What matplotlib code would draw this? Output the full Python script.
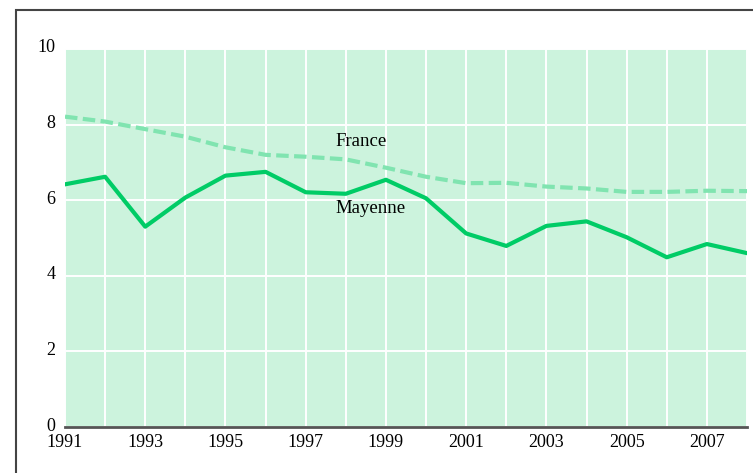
import matplotlib.pyplot as plt
from matplotlib.patches import Rectangle
from matplotlib.transforms import ScaledTranslation

years = list(range(1991, 2009))
france = [8.21, 8.08, 7.88, 7.68, 7.40, 7.20, 7.15, 7.08, 6.86, 6.62,
          6.45, 6.46, 6.36, 6.31, 6.22, 6.22, 6.25, 6.24]
mayenne = [6.42, 6.62, 5.30, 6.07, 6.65, 6.75, 6.21, 6.17, 6.54, 6.05,
           5.12, 4.79, 5.32, 5.44, 5.02, 4.49, 4.84, 4.60]
xtick_labels = [str(y) if y % 2 == 1 else "" for y in years]
yticks = [0, 2, 4, 6, 8, 10]

plt.rcParams['font.family'] = ['Liberation Serif', 'DejaVu Serif']

fig = plt.figure(figsize=(7.53, 4.73), dpi=100)
ax = fig.add_axes([65 / 753, 1 - 427 / 473, 682 / 753, 378 / 473])
ax.set_facecolor("#ccf3dd")

ax.plot(years, france, color="#80e4b0", lw=3, ls=(0, (3, 1.3)), zorder=3)
ax.plot(years, mayenne, color="#00cc66", lw=3, zorder=4)

ax.text(1998.38, 7.55, "France", ha="center", va="center", fontsize=13.5)
ax.text(1998.62, 5.77, "Mayenne", ha="center", va="center", fontsize=13.5)

ax.set_xlim(1991, 2008)
ax.set_ylim(0, 10)
ax.set_xticks(years)
ax.set_xticklabels(xtick_labels)
ax.set_yticks(yticks)
ax.tick_params(length=0, labelsize=13, colors="black")
ax.tick_params(axis="x", pad=5)
ax.tick_params(axis="y", pad=7)

# y labels sit a little above their grid lines in the source
shift = ScaledTranslation(0, 3 / 100, fig.dpi_scale_trans)
for lab in ax.get_yticklabels():
    lab.set_transform(lab.get_transform() + shift)

ax.grid(True, color="white", lw=1.4)
ax.set_axisbelow(True)
for s in ["left", "right", "top"]:
    ax.spines[s].set_visible(False)
ax.spines["bottom"].set_color("#555555")
ax.spines["bottom"].set_linewidth(2)

# outer frame, cut off at right and bottom like the source
fig.patches.append(Rectangle((16 / 753, -0.2), 1.2, 1.2 - 10 / 473,
                             transform=fig.transFigure, fill=False,
                             edgecolor="#444444", lw=1.5))

fig.savefig("out.png", dpi=100)
